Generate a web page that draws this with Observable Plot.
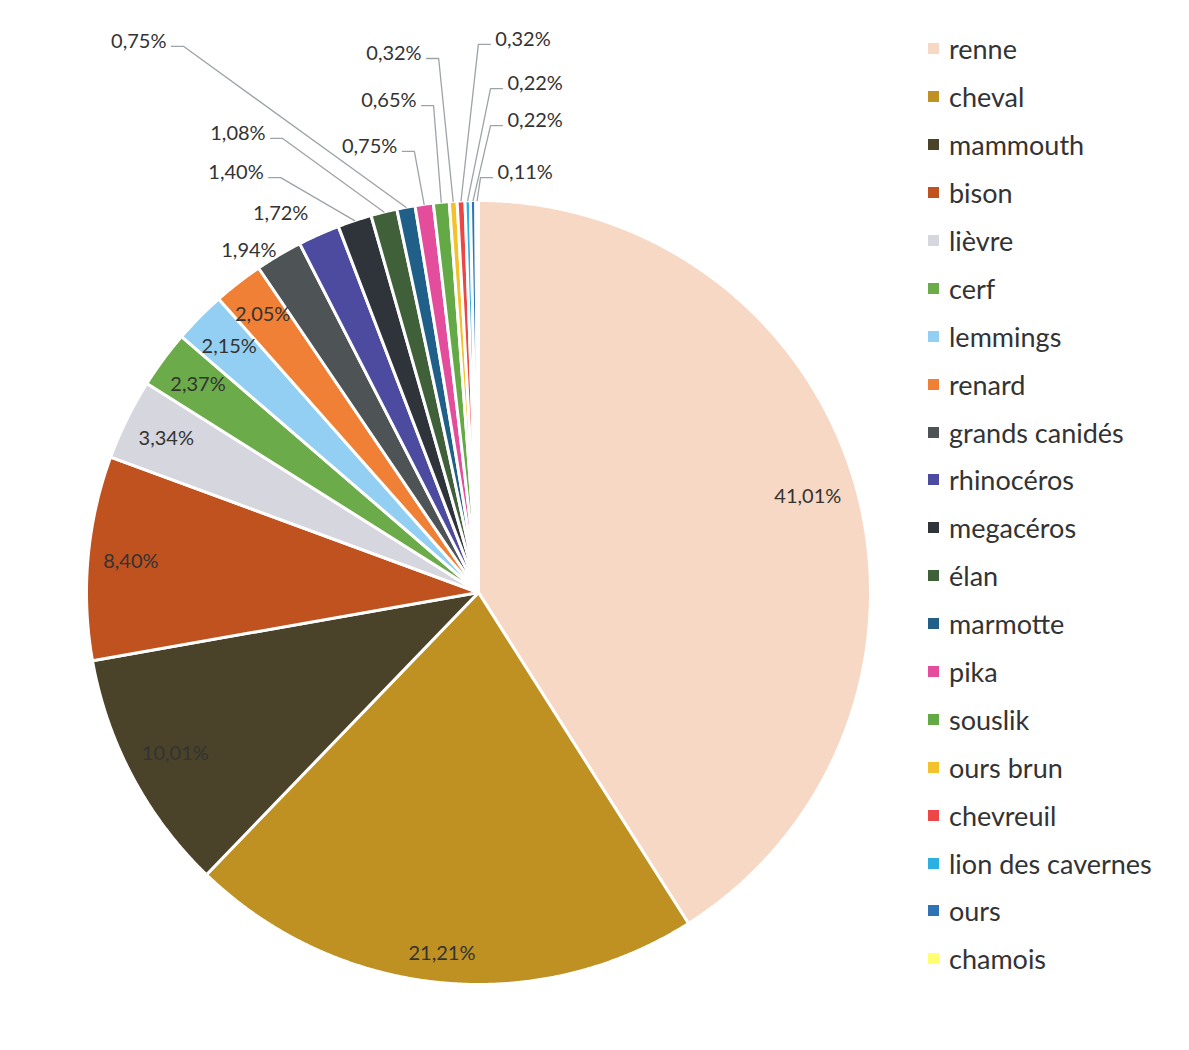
<!DOCTYPE html>
<html>
<head>
<meta charset="utf-8">
<script src="https://cdn.jsdelivr.net/npm/d3@7"></script>
<script src="https://cdn.jsdelivr.net/npm/@observablehq/plot@0.6"></script>
<style>
  html, body { margin: 0; padding: 0; background: #fff; }
  #wrap { position: relative; width: 1189px; height: 1050px; overflow: hidden; background: #fff; }
  #chart { position: absolute; left: 0; top: 0; }
  #legend { position: absolute; left: 928px; top: 25px; font-family: Lato, "Open Sans", sans-serif; font-size: 27px; color: #333; }
  .row { height: 47.9px; display: flex; align-items: center; white-space: nowrap; }
  .sw { width: 11px; height: 11px; margin-right: 10px; flex: none; }
</style>
</head>
<body>
<div id="wrap"><div id="chart"></div><div id="legend"></div></div>
<script>
// ---- data ----
const categories = ["renne", "cheval", "mammouth", "bison", "lièvre", "cerf", "lemmings", "renard",
  "grands canidés", "rhinocéros", "megacéros", "élan", "marmotte", "pika", "souslik", "ours brun",
  "chevreuil", "lion des cavernes", "ours", "chamois"];
const percentages = [41.01, 21.21, 10.01, 8.40, 3.34, 2.37, 2.15, 2.05, 1.94, 1.72, 1.40, 1.08,
  0.75, 0.75, 0.65, 0.32, 0.32, 0.22, 0.22, 0.11];
const colors = ["#f7d8c4", "#be9122", "#4a4229", "#c0521f", "#d6d6de", "#6cab4a", "#93cff2", "#ef8035",
  "#4e5356", "#4d4b9f", "#2e343a", "#40603a", "#1f5f88", "#e34d9c", "#63a946", "#f3c12c",
  "#ee4646", "#2cb0e2", "#2f73b4", "#ffff70"];

// ---- layout of the labels placed outside the pie (chart units, radius = 1) ----
const outsideLabels = [
  {c: "grands canidés", x: -0.515, y: 0.872, side: "left", leader: false},
  {c: "rhinocéros", x: -0.434, y: 0.967, side: "left", leader: false},
  {c: "megacéros", x: -0.548, y: 1.071, side: "left", leader: true},
  {c: "élan", x: -0.543, y: 1.171, side: "left", leader: true},
  {c: "marmotte", x: -0.796, y: 1.406, side: "left", leader: true},
  {c: "pika", x: -0.207, y: 1.138, side: "left", leader: true},
  {c: "souslik", x: -0.158, y: 1.255, side: "left", leader: true},
  {c: "ours brun", x: -0.145, y: 1.375, side: "left", leader: true},
  {c: "chevreuil", x: 0.043, y: 1.411, side: "right", leader: true},
  {c: "lion des cavernes", x: 0.074, y: 1.298, side: "right", leader: true},
  {c: "ours", x: 0.074, y: 1.204, side: "right", leader: true},
  {c: "chamois", x: 0.0485, y: 1.071, side: "right", leader: true}
];

// ---- geometry ----
const Rpx = 392, cx = 478, cy = 592, W = 900, H = 1050;
const px = 1 / Rpx;
const fmt = v => v.toFixed(2).replace(".", ",") + "%";
const total = d3.sum(percentages);
let acc = 0;
const slices = categories.map((c, i) => {
  const a0 = acc / total * 2 * Math.PI;
  acc += percentages[i];
  const a1 = acc / total * 2 * Math.PI;
  return {c, v: percentages[i], a0, a1, mid: (a0 + a1) / 2};
});
const byCat = new Map(slices.map(s => [s.c, s]));

const polyPts = slices.flatMap(s => {
  const n = Math.max(2, Math.ceil((s.a1 - s.a0) / 0.004));
  const pts = [{c: s.c, x: 0, y: 0}];
  for (let k = 0; k <= n; k++) {
    const a = s.a0 + (s.a1 - s.a0) * k / n;
    pts.push({c: s.c, x: Math.sin(a), y: Math.cos(a)});
  }
  return pts;
});

// inside-end labels for the larger slices
const insideSet = new Set(outsideLabels.map(d => d.c));
const inside = slices.filter(s => !insideSet.has(s.c)).map(s => {
  const t = fmt(s.v);
  const w = t.length * 10.5, h = 20;
  const ext = Math.abs(Math.sin(s.mid)) * w / 2 + Math.abs(Math.cos(s.mid)) * h / 2;
  const r = 1 - (ext + 16) * px;
  return {t, x: r * Math.sin(s.mid), y: r * Math.cos(s.mid)};
});

const outside = outsideLabels.map(d => ({...d, t: fmt(byCat.get(d.c).v)}));
const leaderPts = outside.filter(d => d.leader).flatMap(d => {
  const s = byCat.get(d.c);
  const dir = d.side === "left" ? 1 : -1;
  const x0 = d.x + dir * 5 * px, y0 = d.y - 5 * px;
  return [
    {c: d.c, x: x0, y: y0},
    {c: d.c, x: x0 + dir * 12 * px, y: y0},
    {c: d.c, x: Math.sin(s.mid), y: Math.cos(s.mid)}
  ];
});

const font = "Lato, 'Open Sans', sans-serif";
const chart = Plot.plot({
  width: W, height: H,
  margin: 0,
  x: {domain: [-cx / Rpx, (W - cx) / Rpx], axis: null},
  y: {domain: [(cy - H) / Rpx, cy / Rpx], axis: null},
  color: {domain: categories, range: colors},
  style: {fontFamily: font, background: "white"},
  marks: [
    Plot.line(polyPts, {x: "x", y: "y", z: "c", fill: "c", stroke: "white", strokeWidth: 3,
      strokeLinejoin: "round", curve: "linear-closed"}),
    Plot.line(leaderPts, {x: "x", y: "y", z: "c", stroke: "#9ea3a8", strokeWidth: 1.3}),
    Plot.text(inside, {x: "x", y: "y", text: "t", fontSize: 20, fill: "#333", fontFamily: font}),
    Plot.text(outside.filter(d => d.side === "left"), {x: "x", y: "y", text: "t", fontSize: 20,
      fill: "#333", textAnchor: "end", fontFamily: font}),
    Plot.text(outside.filter(d => d.side === "right"), {x: "x", y: "y", text: "t", fontSize: 20,
      fill: "#333", textAnchor: "start", fontFamily: font})
  ]
});
document.getElementById("chart").appendChild(chart);

const legend = document.getElementById("legend");
categories.forEach((c, i) => {
  const row = document.createElement("div");
  row.className = "row";
  const sw = document.createElement("span");
  sw.className = "sw";
  sw.style.background = colors[i];
  const lab = document.createElement("span");
  lab.textContent = c;
  row.appendChild(sw);
  row.appendChild(lab);
  legend.appendChild(row);
});
</script>
</body>
</html>
